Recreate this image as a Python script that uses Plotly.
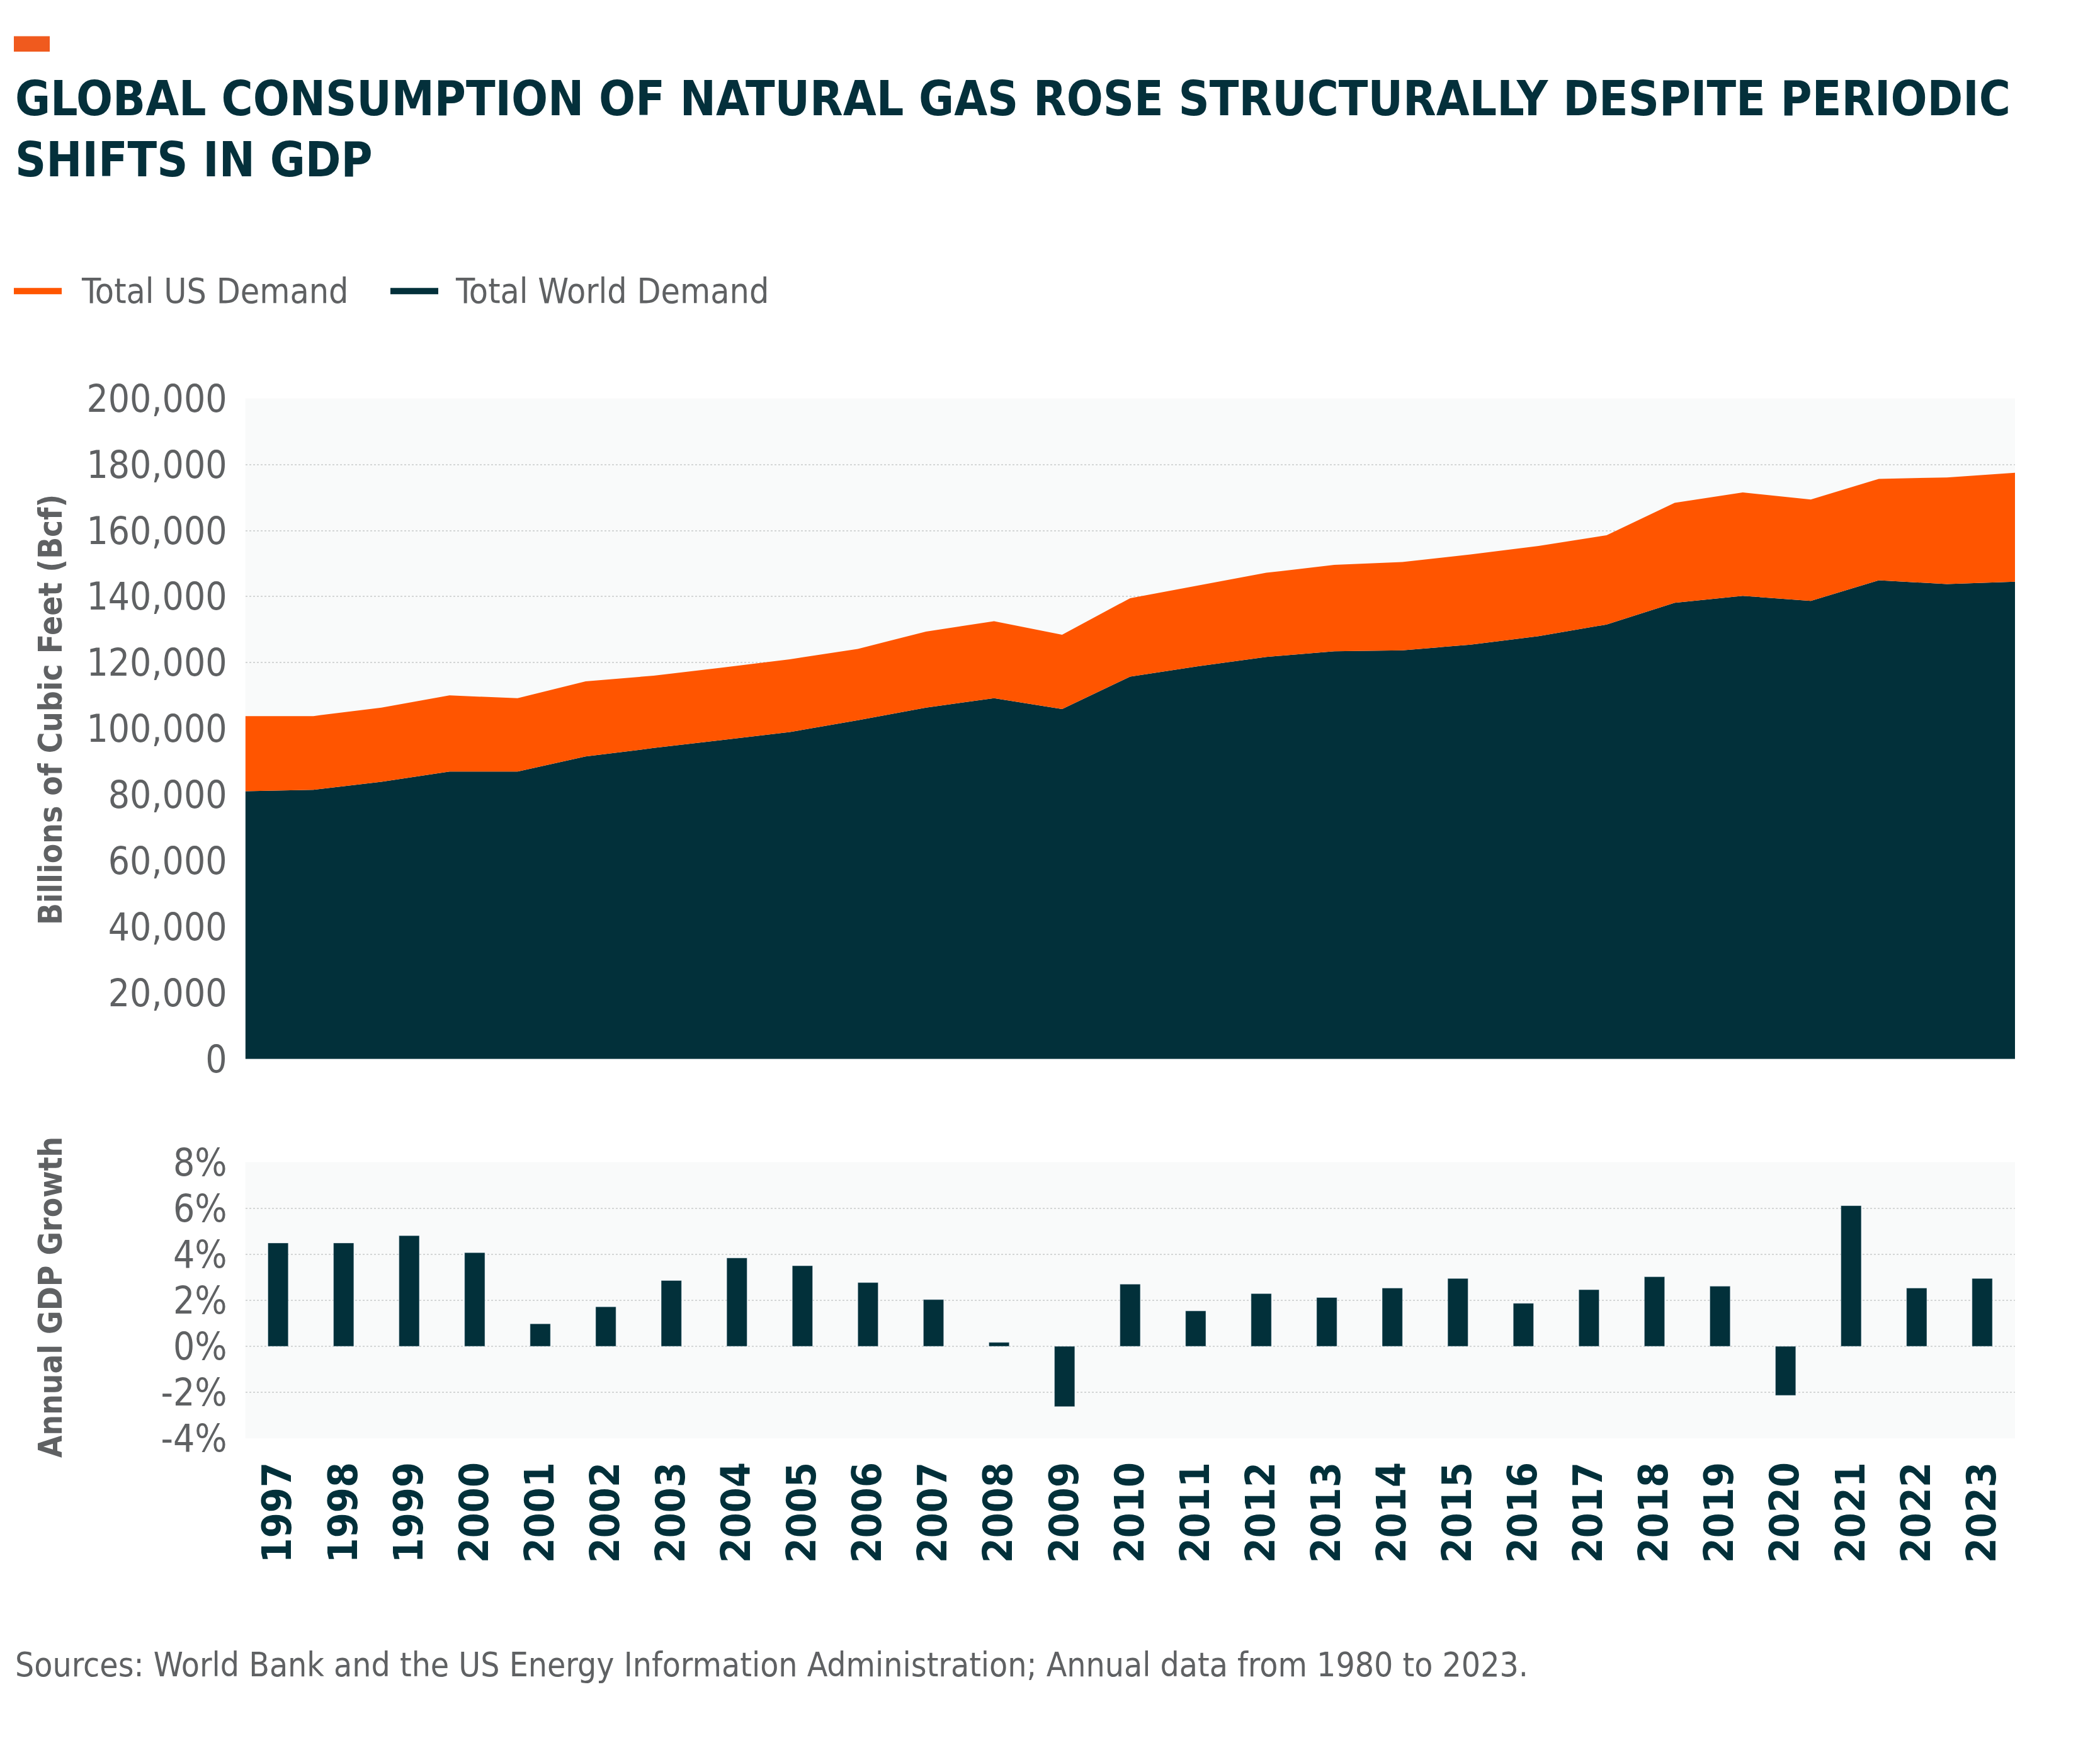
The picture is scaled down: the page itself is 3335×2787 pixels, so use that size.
import plotly.graph_objects as go
from plotly.subplots import make_subplots

W, H = 3335, 2787

years = ['1997', '1998', '1999', '2000', '2001', '2002', '2003', '2004', '2005',
         '2006', '2007', '2008', '2009', '2010', '2011', '2012', '2013', '2014',
         '2015', '2016', '2017', '2018', '2019', '2020', '2021', '2022', '2023']
year_nums = [int(y) for y in years]

# billions of cubic feet
world_demand = [81080, 81510, 83930, 87060, 87060, 91600, 94170, 96590, 99000,
                102560, 106400, 109240, 105970, 115790, 118920, 121760, 123470, 123760,
                125460, 128020, 131580, 138120, 140260, 138690, 144950, 143810, 144520]
us_demand = [22760, 22330, 22470, 23040, 22180, 22770, 21900, 21900, 22050,
             21620, 23040, 23330, 22480, 23750, 24460, 25460, 26170, 26740,
             27310, 27310, 27020, 30300, 31290, 30730, 30720, 32290, 33000]

# annual GDP growth, %
gdp_growth = [4.49, 4.49, 4.81, 4.07, 0.98, 1.72, 2.86, 3.84, 3.50,
              2.77, 2.03, 0.17, -2.62, 2.70, 1.54, 2.29, 2.12, 2.53,
              2.95, 1.87, 2.46, 3.02, 2.61, -2.13, 6.11, 2.53, 2.95]

gdp_tick_vals = [-4, -2, 0, 2, 4, 6, 8]
gdp_tick_text = ['-4%', '-2%', '0%', '2%', '4%', '6%', '8%']

DARK = '#02303a'
ORANGE = '#ff5500'
GREY = '#5f6163'
FONT = 'DejaVu Sans Condensed, Liberation Sans Narrow, sans-serif'


def px(x):
    return x / W


def py(y):
    return 1 - y / H


fig = make_subplots(rows=2, cols=1)

fig.add_trace(go.Scatter(x=year_nums, y=world_demand, stackgroup='gas', mode='none',
                         fillcolor=DARK, name='Total World Demand', showlegend=False),
              row=1, col=1)
fig.add_trace(go.Scatter(x=year_nums, y=us_demand, stackgroup='gas', mode='none',
                         fillcolor=ORANGE, name='Total US Demand', showlegend=False),
              row=1, col=1)
fig.add_trace(go.Bar(x=years, y=gdp_growth, marker_color=DARK, showlegend=False),
              row=2, col=1)

grid = dict(showgrid=True, gridcolor='#d4d6d6', gridwidth=2, griddash='dot')
tickfont = dict(family=FONT, size=60, color=GREY)

fig.update_layout(
    width=W, height=H,
    margin=dict(l=0, r=0, t=0, b=0),
    paper_bgcolor='white',
    plot_bgcolor='#f9fafa',
    bargap=0.69,
    showlegend=False,
    xaxis=dict(domain=[px(381.6), px(3192)], range=[1997, 2023], visible=False),
    yaxis=dict(domain=[py(1681), py(605)], range=[0, 200000], dtick=20000,
               tickformat=',d', tickfont=tickfont, ticklabelstandoff=28,
               zeroline=False, **grid),
    xaxis2=dict(domain=[px(381.6), px(3192)], type='category', tickangle=-90,
                tickfont=dict(family=FONT, size=64, color=DARK, weight='bold'),
                ticklabelstandoff=24, showgrid=False),
    yaxis2=dict(domain=[py(2299), py(1849)], range=[-4, 8], tickvals=gdp_tick_vals,
                ticktext=gdp_tick_text, tickfont=tickfont, ticklabelstandoff=28,
                zeroline=False, **grid),
)

title_font = dict(family=FONT, size=76, color='#04303b', weight='bold')
fig.add_annotation(text='GLOBAL CONSUMPTION OF NATURAL GAS ROSE STRUCTURALLY DESPITE PERIODIC',
                   x=px(14), y=py(116), xref='paper', yref='paper', xanchor='left',
                   yanchor='middle', showarrow=False, font=title_font)
fig.add_annotation(text='SHIFTS IN GDP',
                   x=px(14), y=py(216), xref='paper', yref='paper', xanchor='left',
                   yanchor='middle', showarrow=False, font=title_font)

# small orange tag above the title
fig.add_shape(type='rect', xref='paper', yref='paper', x0=px(14), x1=px(71),
              y0=py(40), y1=py(15), fillcolor='#f05a1e', line_width=0)

# legend
legend_items = [('Total US Demand', ORANGE, 14, 119), ('Total World Demand', DARK, 612, 713)]
for label, color, x_line, x_text in legend_items:
    fig.add_shape(type='line', xref='paper', yref='paper', x0=px(x_line), x1=px(x_line + 76),
                  y0=py(430), y1=py(430), line=dict(color=color, width=10))
    fig.add_annotation(text=label, x=px(x_text), y=py(430), xref='paper', yref='paper',
                       xanchor='left', yanchor='middle', showarrow=False,
                       font=dict(family=FONT, size=55, color=GREY))

axis_title_font = dict(family=FONT, size=51, color=GREY, weight='bold')
fig.add_annotation(text='Billions of Cubic Feet (Bcf)', x=px(72), y=py(1112),
                   xref='paper', yref='paper', xanchor='center', yanchor='middle',
                   textangle=-90, showarrow=False, font=axis_title_font)
fig.add_annotation(text='Annual GDP Growth', x=px(72), y=py(2069),
                   xref='paper', yref='paper', xanchor='center', yanchor='middle',
                   textangle=-90, showarrow=False, font=axis_title_font)

fig.add_annotation(text='Sources: World Bank and the US Energy Information Administration; '
                        'Annual data from 1980 to 2023.',
                   x=px(14), y=py(2667), xref='paper', yref='paper', xanchor='left',
                   yanchor='middle', showarrow=False,
                   font=dict(family=FONT, size=53, color=GREY))

fig.write_html('out.html')
